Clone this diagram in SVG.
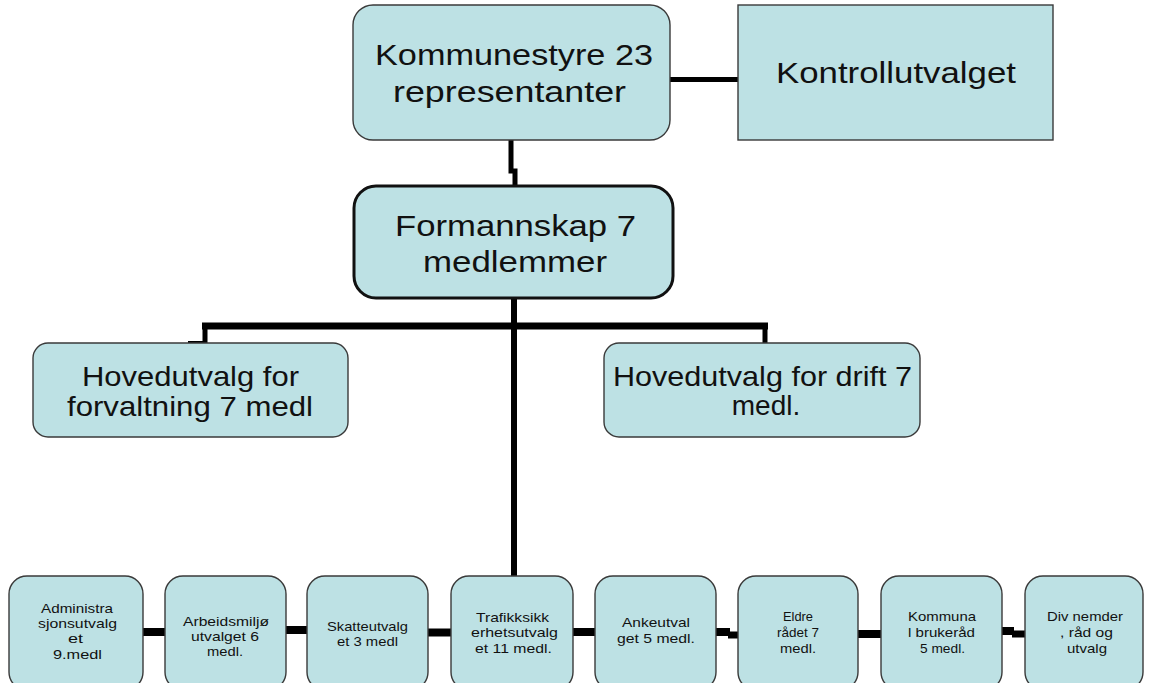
<svg xmlns="http://www.w3.org/2000/svg" width="1149" height="683" viewBox="0 0 1149 683">
<style>
.box{fill:#bde1e4;stroke:#3a3a3a;stroke-width:1.4}
.bold{fill:#bde1e4;stroke:#111;stroke-width:3}
.c{fill:none;stroke:#000;stroke-linecap:butt;stroke-linejoin:miter}
text{font-family:"Liberation Sans",Arial,sans-serif;fill:#111;text-anchor:middle}
.big{font-size:30px}
.mid{font-size:28px}
.sm{font-size:13.5px}
</style>
<rect width="1149" height="683" fill="#fff"/>
<g id="connectors">
<line class="c" x1="670" y1="79.5" x2="738" y2="79.5" stroke-width="5"/>
<polyline class="c" points="511,140 511,171 515,171 515,187" stroke-width="5"/>
<line class="c" x1="514" y1="298" x2="514" y2="576" stroke-width="6"/>
<line class="c" x1="202" y1="326" x2="768" y2="326" stroke-width="7"/>
<polyline class="c" points="205,326 205,343.5 188,343.5" stroke-width="5"/>
<line class="c" x1="765" y1="326" x2="765" y2="343" stroke-width="5"/>
<line class="c" x1="143" y1="632" x2="165" y2="632" stroke-width="8"/>
<line class="c" x1="286" y1="630" x2="307" y2="630" stroke-width="8"/>
<line class="c" x1="428" y1="632.5" x2="451" y2="632.5" stroke-width="8"/>
<line class="c" x1="573" y1="632" x2="595" y2="632" stroke-width="8"/>
<line class="c" x1="716" y1="632" x2="730" y2="632" stroke-width="8"/>
<line class="c" x1="728" y1="635" x2="738" y2="635" stroke-width="7"/>
<line class="c" x1="858" y1="634" x2="881" y2="634" stroke-width="8"/>
<line class="c" x1="1002" y1="631" x2="1014" y2="631" stroke-width="8"/>
<line class="c" x1="1012" y1="634" x2="1025" y2="634" stroke-width="7"/>
</g>
<g id="kommunestyre">
<rect class="box" x="353" y="5" width="317" height="135" rx="20"/>
<text class="big" x="514" y="65" textLength="278" lengthAdjust="spacingAndGlyphs">Kommunestyre 23</text>
<text class="big" x="509.5" y="102" textLength="233" lengthAdjust="spacingAndGlyphs">representanter</text>
</g>
<g id="kontrollutvalget">
<rect class="box" x="738" y="5" width="315" height="135"/>
<text class="big" x="896" y="83" font-size="29" textLength="240" lengthAdjust="spacingAndGlyphs">Kontrollutvalget</text>
</g>
<g id="formannskap">
<rect class="bold" x="354" y="186" width="319" height="112" rx="22"/>
<text class="big" x="515.5" y="236" textLength="241" lengthAdjust="spacingAndGlyphs">Formannskap 7</text>
<text class="big" x="515" y="272" textLength="184" lengthAdjust="spacingAndGlyphs">medlemmer</text>
</g>
<g id="hovedutvalg-forvaltning">
<rect class="box" x="33" y="343" width="315" height="94" rx="15"/>
<text class="mid" x="190.5" y="386" textLength="217" lengthAdjust="spacingAndGlyphs">Hovedutvalg for</text>
<text class="mid" x="190" y="416" textLength="246" lengthAdjust="spacingAndGlyphs">forvaltning 7 medl</text>
</g>
<g id="hovedutvalg-drift">
<rect class="box" x="604" y="343" width="316" height="94" rx="15"/>
<text class="mid" x="762.5" y="386" textLength="299" lengthAdjust="spacingAndGlyphs">Hovedutvalg for drift 7</text>
<text class="mid" x="766" y="415">medl.</text>
</g>
<g id="administrasjonsutvalget">
<rect class="box" x="9" y="576" width="134" height="114" rx="18"/>
<text class="sm" x="77" y="613" textLength="72" lengthAdjust="spacingAndGlyphs">Administra</text>
<text class="sm" x="77.5" y="628" textLength="79" lengthAdjust="spacingAndGlyphs">sjonsutvalg</text>
<text class="sm" x="75.5" y="643" textLength="15" lengthAdjust="spacingAndGlyphs">et</text>
<text class="sm" x="77.5" y="659" textLength="49" lengthAdjust="spacingAndGlyphs">9.medl</text>
</g>
<g id="arbeidsmiljoutvalget">
<rect class="box" x="165" y="576" width="121" height="114" rx="18"/>
<text class="sm" x="226" y="626" textLength="86" lengthAdjust="spacingAndGlyphs">Arbeidsmiljø</text>
<text class="sm" x="225" y="641" textLength="68" lengthAdjust="spacingAndGlyphs">utvalget 6</text>
<text class="sm" x="225" y="656" textLength="36" lengthAdjust="spacingAndGlyphs">medl.</text>
</g>
<g id="skatteutvalget">
<rect class="box" x="307" y="576" width="121" height="114" rx="18"/>
<text class="sm" x="367.5" y="631" textLength="81" lengthAdjust="spacingAndGlyphs">Skatteutvalg</text>
<text class="sm" x="367.5" y="646" textLength="61" lengthAdjust="spacingAndGlyphs">et 3 medl</text>
</g>
<g id="trafikksikkerhetsutvalget">
<rect class="box" x="451" y="576" width="122" height="114" rx="18"/>
<text class="sm" x="512.5" y="622" textLength="73" lengthAdjust="spacingAndGlyphs">Trafikksikk</text>
<text class="sm" x="514.5" y="637" textLength="87" lengthAdjust="spacingAndGlyphs">erhetsutvalg</text>
<text class="sm" x="513.5" y="653" textLength="77" lengthAdjust="spacingAndGlyphs">et 11 medl.</text>
</g>
<g id="ankeutvalget">
<rect class="box" x="595" y="576" width="121" height="114" rx="18"/>
<text class="sm" x="656" y="627" textLength="68" lengthAdjust="spacingAndGlyphs">Ankeutval</text>
<text class="sm" x="656" y="643" textLength="78" lengthAdjust="spacingAndGlyphs">get 5 medl.</text>
</g>
<g id="eldreradet">
<rect class="box" x="738" y="576" width="120" height="114" rx="18"/>
<text class="sm" x="798" y="621" textLength="30" lengthAdjust="spacingAndGlyphs">Eldre</text>
<text class="sm" x="798" y="637" textLength="42" lengthAdjust="spacingAndGlyphs">rådet 7</text>
<text class="sm" x="798" y="653" textLength="36" lengthAdjust="spacingAndGlyphs">medl.</text>
</g>
<g id="kommunal-brukerrad">
<rect class="box" x="881" y="576" width="121" height="114" rx="18"/>
<text class="sm" x="942" y="621" textLength="68" lengthAdjust="spacingAndGlyphs">Kommuna</text>
<text class="sm" x="941.5" y="637" textLength="67" lengthAdjust="spacingAndGlyphs">l brukeråd</text>
<text class="sm" x="942.5" y="653" textLength="45" lengthAdjust="spacingAndGlyphs">5 medl.</text>
</g>
<g id="div-nemder">
<rect class="box" x="1025" y="576" width="118" height="114" rx="18"/>
<text class="sm" x="1085" y="621" textLength="76" lengthAdjust="spacingAndGlyphs">Div nemder</text>
<text class="sm" x="1086.5" y="637" textLength="53" lengthAdjust="spacingAndGlyphs">, råd og</text>
<text class="sm" x="1087" y="653" textLength="40" lengthAdjust="spacingAndGlyphs">utvalg</text>
</g>
</svg>
